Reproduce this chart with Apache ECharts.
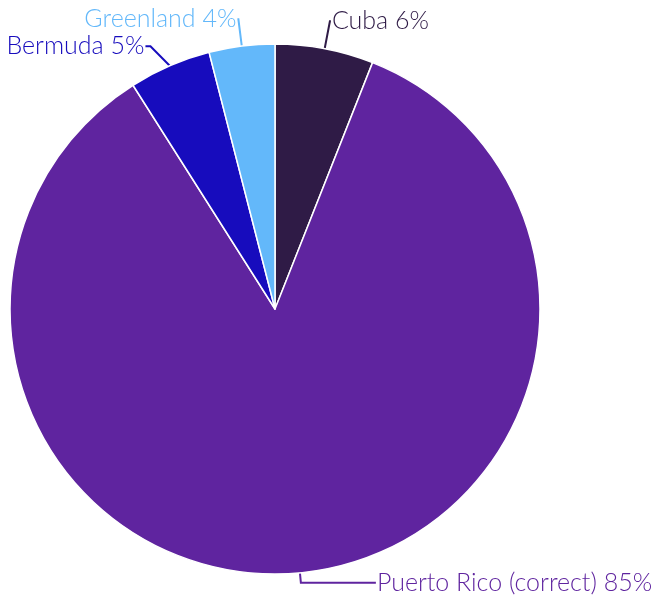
<!DOCTYPE html>
<html>
<head>
<meta charset="utf-8">
<script src="https://cdn.jsdelivr.net/npm/echarts@6/dist/echarts.min.js"></script>
<style>html,body{margin:0;padding:0;background:#fff}#c{width:657px;height:600px}</style>
</head>
<body>
<div id="c"></div>
<script>
const categories = ["Cuba", "Puerto Rico (correct)", "Bermuda", "Greenland"];
const values = [6, 85, 5, 4];
const colors = ["#2f1b46", "#5f249f", "#170cbd", "#63b8fa"];
const lineLen = [28, 10, 22, 27];
const lineLen2 = [1, 75, 5, 1];

const chart = echarts.init(document.getElementById('c'));
chart.setOption({
  animation: false,
  series: [{
    type: 'pie',
    center: [275, 309],
    radius: 265,
    startAngle: 90,
    clockwise: true,
    data: categories.map((n, i) => ({
      name: n, value: values[i],
      itemStyle: { color: colors[i] },
      label: { color: colors[i] },
      labelLine: { length: lineLen[i], length2: lineLen2[i], lineStyle: { color: colors[i] } }
    })),
    itemStyle: { borderColor: '#fff', borderWidth: 1.5 },
    label: {
      formatter: p => p.name + ' ' + p.value + '%',
      fontFamily: 'Lato',
      fontWeight: 300,
      fontSize: 25,
      distanceToLabelLine: 1,
      overflow: 'none',
      bleedMargin: 0
    },
    labelLine: { lineStyle: { width: 2 } }
  }]
});
</script>
</body>
</html>
